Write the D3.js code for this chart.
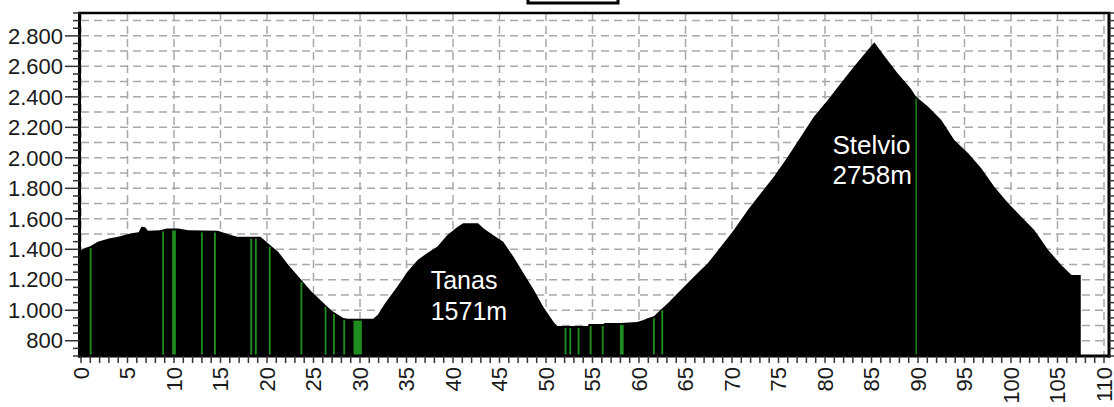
<!DOCTYPE html>
<html>
<head>
<meta charset="utf-8">
<script src="https://cdn.jsdelivr.net/npm/d3@7"></script>
<style>
  html, body { margin: 0; padding: 0; background: #fff; }
  svg { display: block; font-family: "Liberation Sans", Arial, sans-serif; }
</style>
</head>
<body>
<svg id="chart" width="1114" height="407"></svg>
<script>
// ---- data ----
const profileKm = [0, 0.5, 1.0, 1.8, 3.0, 4.0, 5.4, 6.2, 6.5, 6.9, 7.2, 8.5, 9.2, 10.5, 11.5, 14.7, 16.1, 16.8, 19.3, 20.1,
  21.2, 22.3, 23.4, 24.8, 26.3, 27.0, 27.7, 28.2, 28.7, 31.4, 31.9, 32.7, 34.0, 35.1, 36.2, 37.2, 38.3, 39.4, 40.5, 41.1,
  42.7, 43.3, 44.3, 45.4, 46.5, 47.6, 48.7, 49.7, 50.8, 51.2, 54.5, 54.6, 56.2, 56.3, 58.0, 59.8, 60.5, 60.9, 61.6, 62.3,
  63.1, 64.5, 65.9, 67.4, 68.8, 70.2, 71.7, 73.1, 74.5, 76.0, 77.4, 78.8, 80.3, 81.7, 83.1, 84.6, 85.3, 86.3, 87.8, 89.2,
  89.8, 91.1, 92.5, 93.9, 95.4, 96.8, 98.2, 99.7, 101.1, 102.5, 104.0, 105.4, 106.5, 107.5, 107.5];
const profileElev = [1395, 1410, 1420, 1450, 1470, 1483, 1505, 1512, 1548, 1545, 1522, 1525, 1537, 1537, 1525, 1522, 1494, 1483, 1483, 1439,
  1384, 1297, 1220, 1122, 1035, 995, 969, 950, 945, 945, 969, 1046, 1155, 1253, 1330, 1374, 1417, 1494, 1548, 1571,
  1571, 1537, 1494, 1450, 1351, 1242, 1133, 1023, 925, 897, 897, 910, 910, 916, 916, 923, 936, 947, 960, 1002,
  1046, 1133, 1220, 1308, 1417, 1527, 1658, 1767, 1876, 2007, 2139, 2270, 2379, 2489, 2598, 2707, 2758, 2675, 2555, 2456,
  2401, 2335, 2248, 2117, 2030, 1931, 1811, 1702, 1614, 1527, 1395, 1297, 1231, 1231, 700];

// green markers: km position and width in km
const markerKm    = [1.04, 8.83, 10.0, 13.0, 14.4, 18.3, 18.8, 20.3, 23.7, 26.3, 27.2, 28.3, 29.75, 52.1, 52.6, 53.5, 54.8, 56.1, 58.15, 61.6, 62.5, 89.8];
const markerWidth = [0.2,  0.2,  0.4,  0.2,  0.2,  0.2,  0.2,  0.2,  0.2,  0.2,  0.2,  0.2,  0.9,   0.2,  0.2,  0.2,  0.2,  0.2,  0.4,   0.2,  0.2,  0.15];

const xTicks = d3.range(0, 111, 5);
const xMinorTicks = d3.range(0, 111, 1);
const yTicks = [800, 1000, 1200, 1400, 1600, 1800, 2000, 2200, 2400, 2600, 2800];
const yGrid = d3.range(700, 2901, 100);
const yMinorTicks = d3.range(700, 2951, 50);

const peaks = [
  { name: "Tanas", height: "1571m" },
  { name: "Stelvio", height: "2758m" }
];

// ---- drawing ----
const svg = d3.select("#chart");
const x = d3.scaleLinear().domain([0, 110]).range([81, 1104]);
const y = d3.scaleLinear().domain([700, 2950]).range([356, 13]);
const fmt = d3.formatLocale({ decimal: ",", thousands: ".", grouping: [3], currency: ["", ""] }).format(",");

const profile = profileKm.map((k, i) => ({ km: k, elev: profileElev[i] }));

// grid
const gridColor = "#a8a8a8";
svg.append("g").selectAll("line").data(yGrid).join("line")
  .attr("x1", x(0)).attr("x2", x(110))
  .attr("y1", d => y(d)).attr("y2", d => y(d))
  .attr("stroke", gridColor).attr("stroke-width", 1.5).attr("stroke-dasharray", "8,5");
svg.append("g").selectAll("line").data(xTicks).join("line")
  .attr("x1", d => x(d)).attr("x2", d => x(d))
  .attr("y1", y(2950)).attr("y2", y(700))
  .attr("stroke", gridColor).attr("stroke-width", 1.5).attr("stroke-dasharray", "8,5");

// profile area
const area = d3.area().x(d => x(d.km)).y0(y(700)).y1(d => y(d.elev));
svg.append("path").datum(profile).attr("d", area).attr("fill", "#000");

// green markers
const interp = km => {
  const i = d3.bisector(d => d.km).left(profile, km);
  if (i <= 0) return profile[0].elev;
  const a = profile[i - 1], b = profile[i];
  const t = (km - a.km) / ((b.km - a.km) || 1);
  return a.elev + t * (b.elev - a.elev);
};
svg.append("g").selectAll("rect").data(markerKm).join("rect")
  .attr("x", (d, i) => x(d - markerWidth[i] / 2))
  .attr("width", (d, i) => x(markerWidth[i]) - x(0))
  .attr("y", d => y(interp(d)) + 2)
  .attr("height", d => y(700) - y(interp(d)) - 2)
  .attr("fill", "#1f8c1f");

// frame
const frameX0 = 79.5, frameX1 = 1109;
svg.append("line").attr("x1", frameX0 - 1.5).attr("x2", frameX1 + 1.5).attr("y1", 13).attr("y2", 13)
  .attr("stroke", "#000").attr("stroke-width", 2.5);
svg.append("line").attr("x1", frameX0 - 1.5).attr("x2", frameX1 + 1.5).attr("y1", y(700)).attr("y2", y(700))
  .attr("stroke", "#000").attr("stroke-width", 3);
svg.append("line").attr("x1", frameX0).attr("x2", frameX0).attr("y1", 12).attr("y2", y(700) + 1.5)
  .attr("stroke", "#000").attr("stroke-width", 3);
svg.append("line").attr("x1", frameX1).attr("x2", frameX1).attr("y1", 12).attr("y2", y(700) + 1.5)
  .attr("stroke", "#000").attr("stroke-width", 3);

// left ticks
svg.append("g").selectAll("line").data(yMinorTicks).join("line")
  .attr("x1", d => yTicks.includes(d) ? 65 : 73).attr("x2", frameX0)
  .attr("y1", d => y(d)).attr("y2", d => y(d))
  .attr("stroke", "#333").attr("stroke-width", 1.5);
// right ticks
svg.append("g").selectAll("line").data(yMinorTicks).join("line")
  .attr("x1", frameX1).attr("x2", frameX1 + 5)
  .attr("y1", d => y(d)).attr("y2", d => y(d))
  .attr("stroke", "#333").attr("stroke-width", 1.5);
// bottom ticks
svg.append("g").selectAll("line").data(xMinorTicks).join("line")
  .attr("x1", d => x(d)).attr("x2", d => x(d))
  .attr("y1", y(700)).attr("y2", y(700) + 7)
  .attr("stroke", "#333").attr("stroke-width", 1.5);

// y labels
svg.append("g").selectAll("text").data(yTicks).join("text")
  .attr("x", 63).attr("y", d => y(d)).attr("dy", "0.35em")
  .attr("text-anchor", "end").attr("font-size", 22).attr("fill", "#1a1a1a")
  .text(d => fmt(d));

// x labels
svg.append("g").selectAll("text").data(xTicks).join("text")
  .attr("transform", d => `translate(${x(d)},${y(700) + 11}) rotate(-90)`)
  .attr("dy", "0.35em")
  .attr("text-anchor", "end").attr("font-size", 22).attr("fill", "#1a1a1a")
  .text(d => d);

// legend box (cut at top)
svg.append("rect").attr("x", 528).attr("y", -20).attr("width", 90).attr("height", 23)
  .attr("fill", "#fff").attr("stroke", "#000").attr("stroke-width", 3);

// annotations
const ann = svg.append("g").attr("fill", "#fff");
ann.append("text").attr("x", x(37.6)).attr("y", y(1139)).attr("font-size", 25).text(peaks[0].name);
ann.append("text").attr("x", x(37.6)).attr("y", y(936)).attr("font-size", 25).text(peaks[0].height);
ann.append("text").attr("x", x(80.8)).attr("y", y(2025)).attr("font-size", 26).text(peaks[1].name);
ann.append("text").attr("x", x(80.8)).attr("y", y(1828)).attr("font-size", 26).text(peaks[1].height);
</script>
</body>
</html>
